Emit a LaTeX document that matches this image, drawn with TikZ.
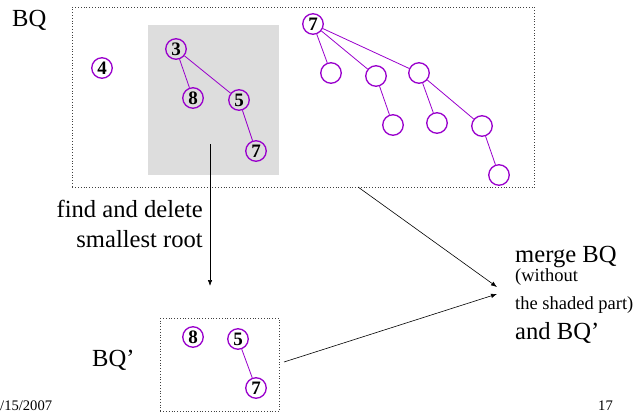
\documentclass[tikz,border=0pt]{standalone}
\usepackage{fontspec}
\setmainfont{Liberation Serif}
\usetikzlibrary{arrows.meta}
\definecolor{hp}{RGB}{153,0,204}
\definecolor{shade}{RGB}{221,221,221}
\begin{document}
\begin{tikzpicture}[x=1pt,y=-1pt,
  hnode/.style={circle,draw=hp,line width=1.3pt,minimum size=20.5pt,inner sep=0pt,font=\fontsize{19}{19}\selectfont\bfseries},
  hedge/.style={draw=hp,line width=0.8pt},
  dbox/.style={draw=black!75,dotted,line width=0.8pt,inner sep=0pt,anchor=north west},
  big/.style={font=\fontsize{24.6}{26}\selectfont,inner sep=0pt},
  small/.style={font=\fontsize{18.5}{20}\selectfont,inner sep=0pt},
  tiny/.style={font=\fontsize{14.6}{16}\selectfont,inner sep=0pt},
  arr/.style={-{Latex[length=6pt,width=4.5pt]},line width=0.6pt}
]
\useasboundingbox (0,0) rectangle (639,412);
% boxes
\node[dbox,minimum width=462pt,minimum height=180pt] (bq) at (72,7) {};
\node[fill=shade,inner sep=0pt,anchor=north west,minimum width=131pt,minimum height=150pt] (gray) at (148,25) {};
\node[dbox,minimum width=119pt,minimum height=93pt] (bqp) at (160,318) {};
% labels
\node[big,anchor=base west] (lbq) at (12,27) {BQ};
\node[big,anchor=base west] (lbqp) at (92,366) {BQ’};
\node[big,anchor=base east] (fd1) at (203,217) {find and delete};
\node[big,anchor=base east] (fd2) at (203,247) {smallest root};
\node[big,anchor=base west] (m1) at (515,262) {merge BQ};
\node[small,anchor=base west] (m2) at (515,281) {(without};
\node[small,anchor=base west] (m3) at (515,309) {the shaded part)};
\node[big,anchor=base west] (m4) at (515,339) {and BQ’};
\node[tiny,anchor=base west] (date) at (0,410) {/15/2007};
\node[tiny,anchor=base east] (pg) at (613,410) {17};
% left trees
\node[hnode] (n4) at (102,68) {4};
\node[hnode] (n3) at (176,49) {3};
\node[hnode] (n8) at (193,98) {8};
\node[hnode] (n5) at (239,100) {5};
\node[hnode] (n7) at (256,151) {7};
\draw[hedge] (n3) -- (n8);
\draw[hedge] (n3) -- (n5);
\draw[hedge] (n5) -- (n7);
% right tree
\node[hnode] (r) at (313,24) {7};
\node[hnode] (c1) at (331,73) {};
\node[hnode] (c2) at (376,76) {};
\node[hnode] (c3) at (419,73) {};
\node[hnode] (c21) at (393,125) {};
\node[hnode] (c31) at (437,123) {};
\node[hnode] (c32) at (482,126) {};
\node[hnode] (c321) at (499,175) {};
\draw[hedge] (r) -- (c1);
\draw[hedge] (r) -- (c2);
\draw[hedge] (r) -- (c3);
\draw[hedge] (c2) -- (c21);
\draw[hedge] (c3) -- (c31);
\draw[hedge] (c3) -- (c32);
\draw[hedge] (c32) -- (c321);
% BQ' trees
\node[hnode] (b8) at (193,337) {8};
\node[hnode] (b5) at (238,339) {5};
\node[hnode] (b7) at (256,388) {7};
\draw[hedge] (b5) -- (b7);
% arrows
\coordinate (dstart) at (210,144);
\coordinate (dend) at (210,286);
\coordinate (bqout) at (358,187);
\coordinate (bqpout) at (284,362);
\coordinate (in1) at (497,287);
\coordinate (in2) at (497,294);
\draw[arr] (dstart) -- (dend);
\draw[arr] (bqout) -- (in1);
\draw[arr] (bqpout) -- (in2);
\end{tikzpicture}
\end{document}
